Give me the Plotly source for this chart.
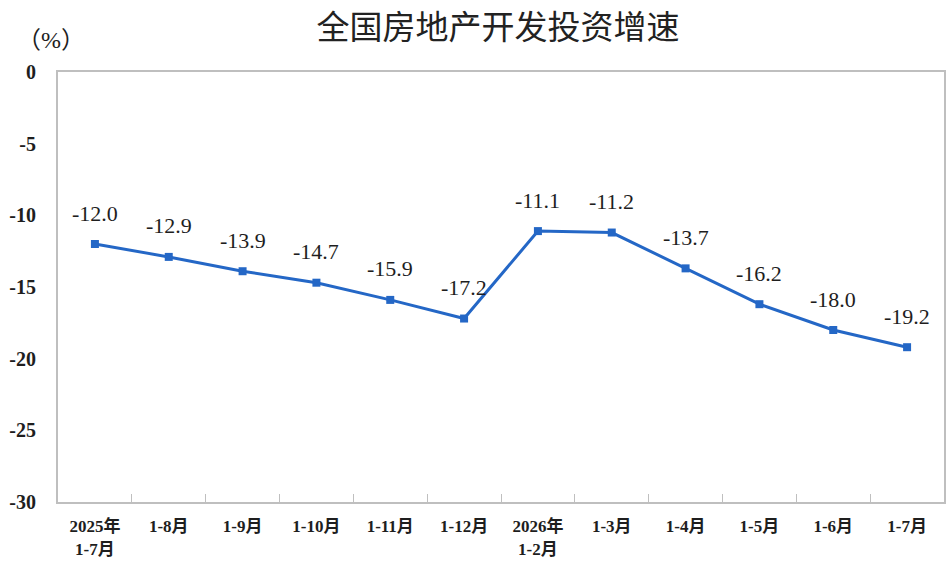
import plotly.graph_objects as go

# 全国房地产开发投资增速 (%)
categories = ['2025年<br>1-7月', '1-8月', '1-9月', '1-10月', '1-11月', '1-12月',
              '2026年<br>1-2月', '1-3月', '1-4月', '1-5月', '1-6月', '1-7月']
growth = [-12.0, -12.9, -13.9, -14.7, -15.9, -17.2, -11.1, -11.2, -13.7, -16.2, -18.0, -19.2]
y_ticks = [0, -5, -10, -15, -20, -25, -30]
y_labels = ['0', '-5', '-10', '-15', '-20', '-25', '-30']

serif = 'Liberation Serif, Noto Sans CJK SC'
line_color = '#2467C6'
frame_color = '#BFBFBF'
text_color = '#1E1E1E'

fig = go.Figure()
fig.add_trace(go.Scatter(
    x=categories, y=growth, mode='lines+markers',
    line=dict(color=line_color, width=3),
    marker=dict(symbol='square', size=8, color=line_color),
    hoverinfo='skip', showlegend=False,
))

# data labels above each point
for c, v in zip(categories, growth):
    fig.add_annotation(x=c, y=v, text=f'{v:.1f}', showarrow=False,
                       yshift=31, font=dict(family=serif, size=22, color=text_color))

# unit label
fig.add_annotation(x=-0.008, y=1.074, xref='paper', yref='paper',
                   xanchor='center', yanchor='middle', text='（%）', showarrow=False,
                   font=dict(family=serif, size=24, color=text_color))

fig.update_layout(
    width=952, height=574,
    margin=dict(l=58, r=8, t=72, b=72),
    paper_bgcolor='white', plot_bgcolor='white',
    title=dict(text='全国房地产开发投资增速', x=0.523, xanchor='center', y=0.953, yanchor='middle',
               font=dict(family='Noto Sans CJK SC', size=33, color='#222')),
    xaxis=dict(
        type='category', range=[-0.5, len(categories) - 0.5],
        tickson='boundaries', ticks='inside', ticklen=8,
        tickcolor=frame_color, showline=True, linecolor=frame_color, linewidth=2,
        mirror=True, showgrid=False, automargin=False, ticklabelstandoff=8,
        tickfont=dict(family=serif, size=17, color=text_color, weight='bold'),
    ),
    yaxis=dict(
        range=[-30, 0], tickvals=y_ticks, ticktext=y_labels, ticks='',
        showline=True, linecolor=frame_color, linewidth=2, mirror=True,
        showgrid=False, zeroline=False, ticklabelstandoff=16, automargin=False,
        tickfont=dict(family=serif, size=20, color=text_color, weight='bold'),
    ),
)

# drop the default 8px body margin so the figure fills the window
fig.write_html('out.html', config={'displayModeBar': False},
               post_script="document.body.style.margin='0';")
